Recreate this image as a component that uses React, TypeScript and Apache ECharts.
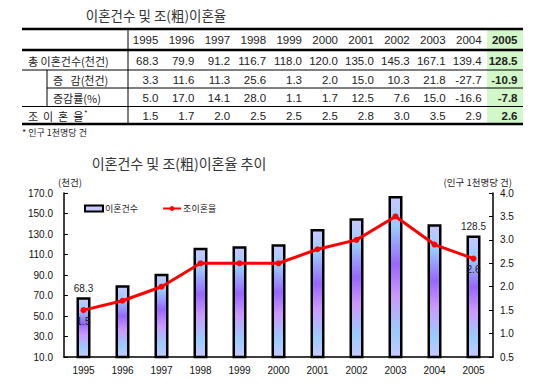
import React, { useEffect, useRef } from 'react';
import * as echarts from 'echarts';

const years = ['1995', '1996', '1997', '1998', '1999', '2000', '2001', '2002', '2003', '2004', '2005'];
const divorces = [68.3, 79.9, 91.2, 116.7, 118.0, 120.0, 135.0, 145.3, 167.1, 139.4, 128.5];
const changeCount = [3.3, 11.6, 11.3, 25.6, 1.3, 2.0, 15.0, 10.3, 21.8, -27.7, -10.9];
const changeRate = [5.0, 17.0, 14.1, 28.0, 1.1, 1.7, 12.5, 7.6, 15.0, -16.6, -7.8];
const crudeRate = [1.5, 1.7, 2.0, 2.5, 2.5, 2.5, 2.8, 3.0, 3.5, 2.9, 2.6];

const tableTitle = '이혼건수 및 조(粗)이혼율';
const chartTitle = '이혼건수 및 조(粗)이혼율 추이';
const rowLabels = ['총 이혼건수(천건)', '증   감(천건)', '증감률(%)', '조  이  혼  율'];
const footnote = '* 인구 1천명당 건';
const leftAxisName = '(천건)';
const rightAxisName = '(인구 1천명당 건)';
const barName = '이혼건수';
const lineName = '조이혼율';

const KFONT = '"Noto Sans CJK KR", "Noto Sans", sans-serif';
const NFONT = 'Arial, "Liberation Sans", "Noto Sans CJK KR", sans-serif';

function buildTable(): any[] {
  const L = 22, R = 523, LR = 128, IN = 47;
  const lines = [29, 50, 70, 88, 106.5, 124];
  const colW = (R - LR) / years.length;
  const els: any[] = [];
  els.push({ type: 'rect', shape: { x: R - colW, y: lines[0], width: colW, height: lines[5] - lines[0] }, style: { fill: '#d2f7c8' }, z: 1 });
  const hl = (y: number, x1: number, w: number) =>
    els.push({ type: 'line', shape: { x1, y1: y, x2: R, y2: y }, style: { stroke: '#000', lineWidth: w }, z: 3 });
  hl(lines[0], L, 2.5);
  hl(lines[1], L, 2.5);
  hl(lines[2], L, 1);
  hl(lines[3], IN, 1);
  hl(lines[4], L, 1);
  hl(lines[5], L, 2.5);
  els.push({ type: 'line', shape: { x1: LR, y1: lines[0], x2: LR, y2: lines[5] }, style: { stroke: '#000', lineWidth: 1 }, z: 3 });
  els.push({ type: 'line', shape: { x1: IN, y1: lines[2], x2: IN, y2: lines[4] }, style: { stroke: '#000', lineWidth: 1 }, z: 3 });

  const rowsData = [years, divorces, changeCount, changeRate, crudeRate];
  rowsData.forEach((arr, r) => {
    const yc = (lines[r] + lines[r + 1]) / 2 + 0.5;
    arr.forEach((v: any, i: number) => {
      const txt = typeof v === 'number' ? v.toFixed(1) : v;
      const last = i === arr.length - 1;
      els.push({
        type: 'text', z: 4,
        style: {
          text: txt, x: LR + (i + 1) * colW - 5.5, y: yc,
          align: 'right', verticalAlign: 'middle',
          fontSize: 11.5, fontFamily: NFONT, fontWeight: last ? 'bold' : 'normal', fill: '#222',
        },
      });
    });
  });
  rowLabels.forEach((lab, r) => {
    const yc = (lines[r + 1] + lines[r + 2]) / 2 + 0.5;
    const x = r === 1 || r === 2 ? 53 : 28;
    const isLast = r === rowLabels.length - 1;
    els.push({
      type: 'text', z: 4,
      style: isLast
        ? {
            text: '{a|' + lab + '}{b|*}', x, y: yc, align: 'left', verticalAlign: 'middle',
            rich: {
              a: { fontSize: 11, fontFamily: KFONT, fill: '#222', color: '#222' },
              b: { fontSize: 8, fontFamily: NFONT, fill: '#222', color: '#222', verticalAlign: 'top', padding: [0, 0, 6, 1] },
            },
          }
        : { text: lab, x, y: yc, align: 'left', verticalAlign: 'middle', fontSize: 11, fontFamily: KFONT, fill: '#222' },
    });
  });
  els.push({ type: 'text', z: 4, style: { text: footnote, x: 22, y: 132, align: 'left', verticalAlign: 'middle', fontSize: 9, fontFamily: KFONT, fill: '#222' } });
  els.push({ type: 'text', z: 4, style: { text: tableTitle, x: 156, y: 15, align: 'center', verticalAlign: 'middle', fontSize: 13.5, fontFamily: KFONT, fill: '#333' } });
  els.push({ type: 'text', z: 4, style: { text: chartTitle, x: 179, y: 163, align: 'center', verticalAlign: 'middle', fontSize: 14, fontFamily: KFONT, fill: '#333' } });
  els.push({ type: 'text', z: 4, style: { text: leftAxisName, x: 70, y: 182, align: 'center', verticalAlign: 'middle', fontSize: 9.5, fontFamily: KFONT, fill: '#222' } });
  els.push({ type: 'text', z: 4, style: { text: rightAxisName, x: 512, y: 182, align: 'right', verticalAlign: 'middle', fontSize: 9.5, fontFamily: KFONT, fill: '#222' } });
  return els;
}

export default function App() {
  const ref = useRef<HTMLDivElement>(null);
  useEffect(() => {
    if (!ref.current) return;
    const chart = echarts.init(ref.current, undefined, { renderer: 'svg' });
    const lastIdx = years.length - 1;
    const gradient = {
      type: 'linear', x: 0, y: 0, x2: 0, y2: 1,
      colorStops: [
        { offset: 0, color: '#c8c8ff' },
        { offset: 0.18, color: '#99ccff' },
        { offset: 0.42, color: '#9966ff' },
        { offset: 0.62, color: '#cc99ff' },
        { offset: 0.84, color: '#99ccff' },
        { offset: 1, color: '#c8c8ff' },
      ],
    };
    const option: any = {
      animation: false,
      textStyle: { fontFamily: NFONT },
      grid: { left: 64, right: 52, top: 193, bottom: 34 },
      legend: {
        left: 84, top: 204, padding: 0, itemWidth: 18, itemHeight: 6, itemGap: 24,
        textStyle: { fontSize: 9, fontFamily: KFONT, color: '#222', padding: [0, 0, 0, -3] },
        data: [
          { name: barName, icon: 'rect', itemStyle: { color: '#c8c8ff', borderColor: '#000', borderWidth: 2 } },
          { name: lineName },
        ],
      },
      xAxis: {
        type: 'category', data: years,
        axisTick: { show: false },
        axisLine: { lineStyle: { color: '#000', width: 1.5 } },
        axisLabel: { fontSize: 10, color: '#111', margin: 8, fontFamily: NFONT },
      },
      yAxis: [
        {
          type: 'value', min: 10, max: 170, interval: 20,
          axisLine: { show: true, lineStyle: { color: '#000', width: 1.5 } },
          axisTick: { show: true, inside: true, length: 4, lineStyle: { color: '#000' } },
          axisLabel: { formatter: (v: number) => v.toFixed(1), fontSize: 10, color: '#111', margin: 11, fontFamily: NFONT },
          splitLine: { show: false },
        },
        {
          type: 'value', min: 0.5, max: 4.0, interval: 0.5, position: 'right',
          axisLine: { show: true, lineStyle: { color: '#000', width: 1.5 } },
          axisTick: { show: true, inside: true, length: 4, lineStyle: { color: '#000' } },
          axisLabel: { formatter: (v: number) => v.toFixed(1), fontSize: 10, color: '#111', margin: 7, fontFamily: NFONT },
          splitLine: { show: false },
        },
      ],
      series: [
        {
          type: 'bar', name: barName, barWidth: 14,
          itemStyle: { color: gradient, borderColor: '#000', borderWidth: 2.5 },
          label: { position: 'top', fontSize: 10, color: '#222', distance: 4, formatter: (p: any) => p.value.toFixed(1) },
          data: divorces.map((v, i) => ({ value: v, label: { show: i === 0 || i === lastIdx } })),
        },
        {
          type: 'line', name: lineName, yAxisIndex: 1,
          symbol: 'circle', symbolSize: 6,
          lineStyle: { color: '#ff0000', width: 3 },
          itemStyle: { color: '#ff0000' },
          label: { position: 'bottom', fontSize: 10, color: '#222', distance: 3, formatter: (p: any) => p.value.toFixed(1) },
          data: crudeRate.map((v, i) => ({ value: v, label: { show: i === 0 || i === lastIdx } })),
          z: 5,
        },
      ],
      graphic: buildTable(),
    };
    chart.setOption(option);
    return () => chart.dispose();
  }, []);
  return <div ref={ref} style={{ position: 'absolute', left: 0, top: 0, width: 545, height: 391 }} />;
}
